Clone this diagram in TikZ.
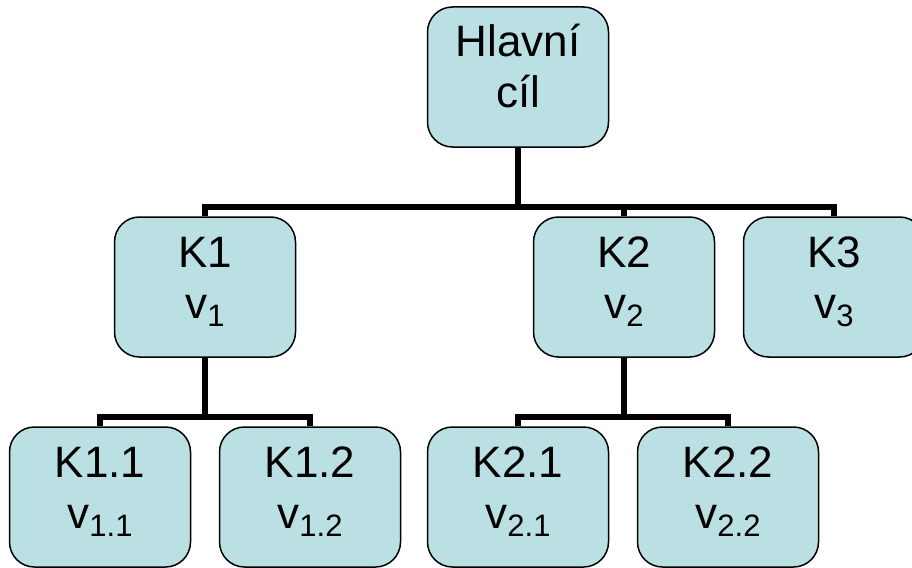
\documentclass[tikz,border=0pt]{standalone}
\usepackage{fontspec}
\setmainfont{Liberation Sans}
\usetikzlibrary{backgrounds}
\definecolor{boxfill}{HTML}{BBE0E3}
% lowered, smaller index after a letter
\newcommand\idx[1]{\raisebox{-8pt}{\fontsize{31}{31}\selectfont #1}}
% two centred lines placed at fixed baselines inside a box
\newcommand\twolines[2]{\parbox[c][140pt][t]{181pt}{\centering\rule{0pt}{50pt}#1\\#2}}
\tikzset{
  goal/.style={draw=black, line width=1.5pt, fill=boxfill, rounded corners=25pt,
    inner sep=0pt, minimum width=181pt, minimum height=140pt,
    font=\fontsize{44}{51}\selectfont},
  conn/.style={draw=black, line width=5.5pt, line join=miter, line cap=butt}
}
\begin{document}
\begin{tikzpicture}[x=1pt, y=-1pt]
\useasboundingbox (0,0) rectangle (912,567);
\clip (0,0) rectangle (912,567);

% tree nodes
\node[goal] (top) at (518,77) {\twolines{Hlavní}{cíl}};
\node[goal] (k1) at (205,287) {\twolines{K1}{v\idx{1}}};
\node[goal] (k2) at (624,287) {\twolines{K2}{v\idx{2}}};
\node[goal] (k3) at (834,287) {\twolines{K3}{v\idx{3}}};
\node[goal] (k11) at (100,497) {\twolines{K1.1}{v\idx{1.1}}};
\node[goal] (k12) at (310,497) {\twolines{K1.2}{v\idx{1.2}}};
\node[goal] (k21) at (518,497) {\twolines{K2.1}{v\idx{2.1}}};
\node[goal] (k22) at (728,497) {\twolines{K2.2}{v\idx{2.2}}};

% bus junctions
\coordinate (bus0) at (518,207);
\coordinate (bus1) at (205,417);
\coordinate (bus2) at (624,417);

\begin{pgfonlayer}{background}
  \draw[conn] (top.south) -- (bus0);
  \draw[conn] (k1.north) |- (bus0) -| (k3.north);
  \draw[conn] (bus0) -| (k2.north);
  \draw[conn] (k1.south) -- (bus1);
  \draw[conn] (k11.north) |- (bus1) -| (k12.north);
  \draw[conn] (k2.south) -- (bus2);
  \draw[conn] (k21.north) |- (bus2) -| (k22.north);
\end{pgfonlayer}
\end{tikzpicture}
\end{document}
